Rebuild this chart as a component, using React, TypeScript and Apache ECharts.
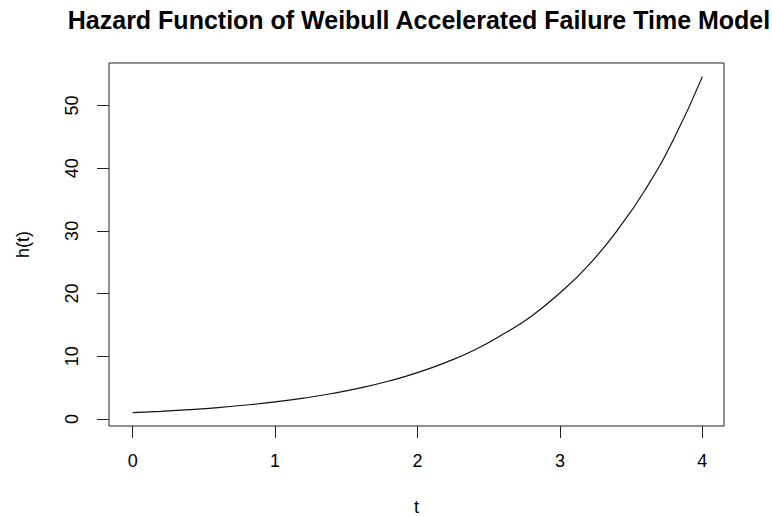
import React, { useEffect, useRef } from "react";
import * as echarts from "echarts";

const titleText = "Hazard Function of Weibull Accelerated Failure Time Model";
const xName = "t";
const yName = "h(t)";
const xTicks = [0, 1, 2, 3, 4];
const yTicks = [0, 10, 20, 30, 40, 50];
// t values and hazard values
const tValues = [
  0, 0.2, 0.4, 0.6, 0.8, 1.0, 1.2, 1.4, 1.6, 1.8, 2.0,
  2.2, 2.4, 2.6, 2.8, 3.0, 3.2, 3.4, 3.6, 3.8, 4.0,
];
const hValues = [
  1.0, 1.22, 1.49, 1.82, 2.23, 2.72, 3.32, 4.06, 4.95, 6.05, 7.39,
  9.03, 11.0, 13.5, 16.4, 20.1, 24.5, 30.0, 36.6, 44.7, 54.6,
];

const FONT = "'Liberation Sans', Arial, Helvetica, sans-serif";

export default function App() {
  const ref = useRef<HTMLDivElement>(null);
  useEffect(() => {
    if (!ref.current) return;
    const chart = echarts.init(ref.current, undefined, { renderer: "svg" });
    chart.setOption({
      animation: false,
      backgroundColor: "#ffffff",
      title: {
        text: titleText,
        left: 414,
        textAlign: "center",
        top: 2,
        textStyle: { fontFamily: FONT, fontWeight: "bold", fontSize: 25, color: "#000" },
      },
      grid: {
        left: 109,
        top: 63,
        width: 615,
        height: 363,
        outerBoundsMode: "none",
        containLabel: false,
        show: true,
        borderColor: "#222",
        borderWidth: 1,
        backgroundColor: "transparent",
      },
      xAxis: {
        type: "value",
        min: -0.166,
        max: 4.152,
        name: xName,
        nameLocation: "middle",
        nameGap: 72,
        nameTextStyle: { fontFamily: FONT, fontSize: 18, lineHeight: 18, color: "#000" },
        axisLine: { show: false, onZero: false },
        splitLine: { show: false },
        axisTick: {
          show: true,
          inside: false,
          length: 12,
          customValues: xTicks,
          lineStyle: { color: "#222", width: 1 },
        },
        axisLabel: {
          customValues: xTicks,
          margin: 26,
          fontFamily: FONT,
          fontSize: 18,
          color: "#000",
        },
      },
      yAxis: {
        type: "value",
        min: -1.12,
        max: 56.77,
        name: yName,
        nameLocation: "middle",
        nameGap: 77,
        nameRotate: 90,
        nameTextStyle: { fontFamily: FONT, fontSize: 18, color: "#000" },
        axisLine: { show: false, onZero: false },
        splitLine: { show: false },
        axisTick: {
          show: true,
          inside: false,
          length: 12,
          customValues: yTicks,
          lineStyle: { color: "#222", width: 1 },
        },
        axisLabel: {
          customValues: yTicks,
          rotate: 90,
          margin: 28,
          fontFamily: FONT,
          fontSize: 18,
          color: "#000",
        },
      },
      series: [
        {
          type: "line",
          data: tValues.map((t, i) => [t, hValues[i]]),
          smooth: true,
          showSymbol: false,
          lineStyle: { color: "#111", width: 1.2 },
        },
      ],
    });
    return () => chart.dispose();
  }, []);
  return (
    <div ref={ref} style={{ position: "fixed", left: 0, top: 0, width: 772, height: 517 }} />
  );
}
